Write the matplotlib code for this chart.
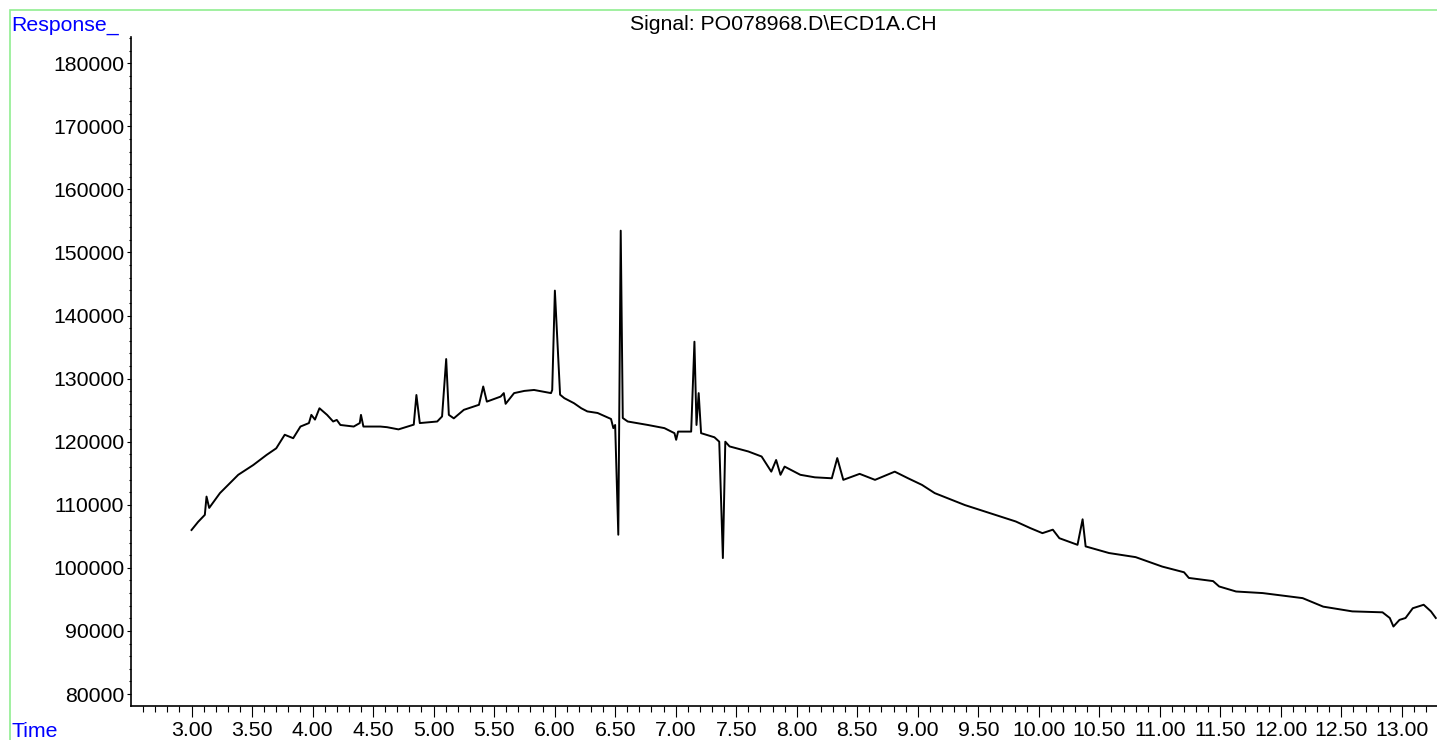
# ECD chromatogram - Signal PO078968.D\ECD1A.CH

import numpy as np
import matplotlib.pyplot as plt
from matplotlib.patches import Rectangle

plt.rcParams["font.family"] = ["Liberation Sans", "DejaVu Sans"]

# --------------------------------------------
# Data
# --------------------------------------------

time_min = [
    3.00, 3.055, 3.11, 3.124, 3.146, 3.235, 3.345, 3.386, 3.51, 3.62,
    3.70, 3.77, 3.84, 3.90, 3.97, 3.99, 4.02, 4.057, 4.12, 4.17,
    4.20, 4.23, 4.34, 4.39, 4.40, 4.42, 4.56, 4.615, 4.71, 4.836,
    4.858, 4.886, 5.03, 5.07, 5.104, 5.126, 5.167, 5.25, 5.375, 5.41,
    5.44, 5.554, 5.58, 5.595, 5.665, 5.75, 5.83, 5.97, 5.98, 6.002,
    6.024, 6.045, 6.08, 6.16, 6.22, 6.27, 6.355, 6.466, 6.485, 6.50,
    6.526, 6.546, 6.563, 6.604, 6.77, 6.907, 6.99, 7.004, 7.02, 7.128,
    7.155, 7.172, 7.19, 7.21, 7.32, 7.36, 7.39, 7.41, 7.445, 7.60,
    7.71, 7.79, 7.83, 7.866, 7.90, 7.98, 8.03, 8.15, 8.29, 8.335,
    8.385, 8.52, 8.647, 8.81, 8.92, 9.035, 9.14, 9.39, 9.64, 9.81,
    9.93, 10.03, 10.116, 10.17, 10.32, 10.362, 10.387, 10.58, 10.80, 11.02,
    11.20, 11.24, 11.44, 11.49, 11.63, 11.85, 12.18, 12.35, 12.59, 12.84,
    12.90, 12.93, 12.98, 13.03, 13.09, 13.18, 13.24, 13.28,
]

response = [
    106000, 107300, 108400, 111300, 109500, 111850, 113950, 114750, 116300, 117900,
    118950, 121100, 120550, 122400, 122950, 124250, 123500, 125300, 124250, 123200,
    123450, 122650, 122400, 122950, 124250, 122400, 122400, 122300, 121950, 122700,
    127400, 122950, 123200, 124000, 133100, 124250, 123700, 125050, 125850, 128750,
    126350, 127150, 127700, 126000, 127700, 128050, 128200, 127700, 128200, 143950,
    135350, 127450, 126900, 126100, 125300, 124800, 124550, 123600, 122150, 122650,
    105250, 153450, 123750, 123200, 122650, 122150, 121350, 120300, 121600, 121600,
    135850, 122650, 127700, 121350, 120700, 120000, 101550, 120000, 119250, 118450,
    117650, 115250, 117100, 114750, 116050, 115250, 114750, 114350, 114200, 117400,
    113950, 114900, 113950, 115250, 114200, 113150, 111850, 109950, 108400, 107350,
    106300, 105500, 106050, 104700, 103650, 107700, 103400, 102350, 101700, 100200,
    99300, 98400, 97900, 97050, 96250, 96000, 95200, 93850, 93100, 92950,
    92050, 90700, 91750, 92050, 93600, 94150, 93100, 92050,
]

x_major = np.arange(3.0, 13.01, 0.5)
x_minor = np.arange(2.6, 13.25, 0.1)
y_major = np.arange(80000, 180001, 10000)
y_minor = np.arange(80000, 184001, 2000)

# --------------------------------------------
# Figure
# --------------------------------------------

W, H = 1437, 740
fig = plt.figure(figsize=(W / 100, H / 100), dpi=100)
ax = fig.add_axes([131 / W, 34 / H, (W - 131) / W, (706 - 36.7) / H])

ax.plot(time_min, response, color="black", linewidth=1.4)

ax.set_xlim(2.5, 13.29)
ax.set_ylim(78100, 184200)

ax.spines["top"].set_visible(False)
ax.spines["right"].set_visible(False)
ax.spines["left"].set_linewidth(1.2)
ax.spines["bottom"].set_linewidth(1.2)

ax.set_xticks(x_major)
ax.set_xticklabels(["%.2f" % v for v in x_major])
ax.set_xticks([v for v in x_minor if abs(v * 2 - round(v * 2)) > 1e-6], minor=True)
ax.set_yticks(y_major)
ax.set_yticklabels(["%d" % v for v in y_major])
ax.set_yticks([v for v in y_minor if v % 10000 != 0], minor=True)

ax.tick_params(axis="x", which="major", length=8, width=0.8, labelsize=15.3, pad=2.5)
ax.tick_params(axis="x", which="minor", length=4.3, width=0.8)
ax.tick_params(axis="y", which="major", length=3, width=0.8, labelsize=15.3, pad=2)
ax.tick_params(axis="y", which="minor", length=1.7, width=0.8)

# --------------------------------------------
# Labels and frame
# --------------------------------------------

fig.text(783 / W, 1 - 25 / H, "Signal: PO078968.D\\ECD1A.CH",
         ha="center", va="center", fontsize=15.3)
fig.text(11 / W, 1 - 31 / H, "Response_", color="#0000ff",
         ha="left", va="baseline", fontsize=15.3)
fig.text(11 / W, 3 / H, "Time", color="#0000ff",
         ha="left", va="baseline", fontsize=15.3)

fig.add_artist(Rectangle((10 / W, -0.1), 1.2, 1 - 10 / H + 0.1,
                         transform=fig.transFigure, fill=False,
                         edgecolor="#90ee90", linewidth=1.2, clip_on=False))

fig.savefig("out.png", dpi=100)
